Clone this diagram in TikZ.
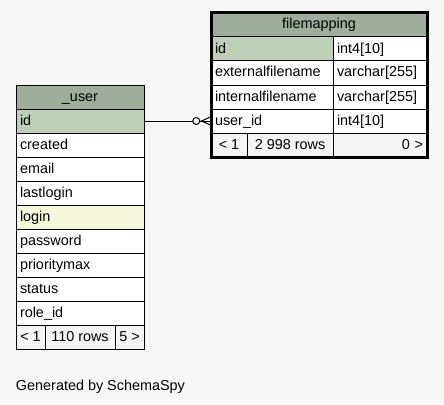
\documentclass[tikz,border=0pt]{standalone}
\usepackage{fontspec}
\setmainfont{Liberation Sans}
\usetikzlibrary{arrows.meta, positioning}
\definecolor{pagebg}{HTML}{F7F7F7}
\definecolor{headgreen}{HTML}{9EAE9A}
\definecolor{keygreen}{HTML}{BED1B8}
\definecolor{indexyellow}{HTML}{F4F7DA}
\definecolor{footgray}{HTML}{F4F4F4}

\begin{document}
\begin{tikzpicture}[
    x=1pt, y=-1pt,
    node distance=0pt,
    every node/.style={draw, rectangle, line width=1pt, outer sep=0pt, inner xsep=4pt, inner ysep=0pt,
        minimum height=24pt, text height=11pt, text depth=3pt, fill=white, font=\fontsize{14.4}{17}\selectfont},
    ucol/.style={text width=120pt, align=left},
    fname/.style={text width=114pt, align=left},
    ftype/.style={text width=86pt, align=left},
    head/.style={fill=headgreen, align=center},
    pkey/.style={fill=keygreen},
    indexed/.style={fill=indexyellow},
    foot/.style={fill=footgray, inner xsep=0pt},
    relation/.style={line width=1pt, preaction={draw, -},
        -{Circle[fill=pagebg, length=8pt, width=8pt] Straight Barb[reversed, length=9pt, width=8pt]}},
    caption/.style={draw=none, fill=none, inner sep=0pt}
]
\useasboundingbox[fill=pagebg] (0,0) rectangle (444,404);

% _user table
\node[ucol, head, anchor=north west] (user) at (16,85) {\_user};
\node[ucol, pkey, below=of user] (uid) {id};
\node[ucol, below=of uid] (ucreated) {created};
\node[ucol, below=of ucreated] (uemail) {email};
\node[ucol, below=of uemail] (ulastlogin) {lastlogin};
\node[ucol, indexed, below=of ulastlogin] (ulogin) {login};
\node[ucol, below=of ulogin] (upassword) {password};
\node[ucol, below=of upassword] (upriority) {prioritymax};
\node[ucol, below=of upriority] (ustatus) {status};
\node[ucol, below=of ustatus] (uroleid) {role\_id};
\node[foot, minimum width=29pt, below right=0pt and 0pt of uroleid.south west] (ufootl) {< 1};
\node[foot, minimum width=70pt, right=of ufootl] (ufootm) {110 rows};
\node[foot, minimum width=29pt, right=of ufootm] (ufootr) {5 >};

% filemapping table
\node[text width=208pt, head, anchor=north west] (fm) at (211,13) {filemapping};
\node[fname, pkey, below right=0pt and 0pt of fm.south west] (fid) {id};
\node[ftype, right=of fid] (fidt) {int4[10]};
\node[fname, below=of fid] (fext) {externalfilename};
\node[ftype, right=of fext] (fextt) {varchar[255]};
\node[fname, below=of fext] (fint) {internalfilename};
\node[ftype, right=of fint] (fintt) {varchar[255]};
\node[fname, below=of fint] (fuserid) {user\_id};
\node[ftype, right=of fuserid] (fuseridt) {int4[10]};
\node[foot, minimum width=36pt, below right=0pt and 0pt of fuserid.south west] (ffootl) {< 1};
\node[foot, minimum width=86pt, right=of ffootl] (ffootm) {2 998 rows};
\node[foot, text width=86pt, inner xsep=4pt, align=right, right=of ffootm] (ffootr) {0 >};
\draw[line width=3pt] (fm.north west) rectangle (ffootr.south east);

% Relation
\draw[relation] (uid.east) -- (fuserid.west);

\node[caption, anchor=base west] (generated) at (16,390) {Generated by SchemaSpy};

\end{tikzpicture}
\end{document}
